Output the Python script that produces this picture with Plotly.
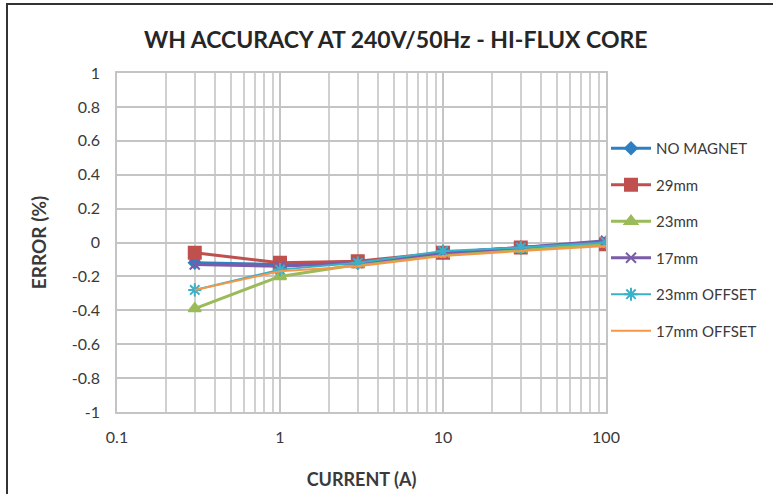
import plotly.graph_objects as go

current = [0.3, 1, 3, 10, 30, 100]
no_magnet = [-0.12, -0.13, -0.12, -0.06, -0.03, 0.00]
mm29 = [-0.06, -0.12, -0.11, -0.06, -0.03, -0.01]
mm23 = [-0.39, -0.20, -0.13, -0.07, -0.04, -0.01]
mm17 = [-0.13, -0.14, -0.12, -0.06, -0.03, 0.01]
mm23_offset = [-0.28, -0.16, -0.12, -0.05, -0.03, 0.00]
mm17_offset = [-0.28, -0.17, -0.14, -0.08, -0.05, -0.02]

series_names = ["NO MAGNET", "29mm", "23mm", "17mm", "23mm OFFSET", "17mm OFFSET"]
series_values = [no_magnet, mm29, mm23, mm17, mm23_offset, mm17_offset]
colors = ["#2F7FC1", "#C0504D", "#9BBB59", "#7A5CA8", "#3BB0C9", "#F79646"]
symbols = ["diamond", "square", "triangle-up", "x-thin-open", "asterisk-open", None]
sizes = [9, 12, 11, 10, 11, 0]
widths = [3, 3, 3, 3, 2, 2]

x_ticks = [0.1, 1, 10, 100]
x_tick_labels = ["0.1", "1", "10", "100"]
y_ticks = [1, 0.8, 0.6, 0.4, 0.2, 0, -0.2, -0.4, -0.6, -0.8, -1]
y_tick_labels = ["1", "0.8", "0.6", "0.4", "0.2", "0", "-0.2", "-0.4", "-0.6", "-0.8", "-1"]

FONT = "Lato"
TXT = "#3A3A3A"
fig = go.Figure()
for i, (name, vals) in enumerate(zip(series_names, series_values)):
    if symbols[i] is None:
        mode = "lines"
        marker = None
    else:
        mode = "lines+markers"
        marker = dict(symbol=symbols[i], size=sizes[i], color=colors[i],
                      line=dict(color=colors[i], width=2))
    fig.add_trace(go.Scatter(
        x=current, y=vals, name=name, mode=mode,
        line=dict(color=colors[i], width=widths[i]),
        marker=marker, legendgroup=name,
    ))

fig.update_layout(
    width=773, height=494,
    paper_bgcolor="white", plot_bgcolor="white",
    margin=dict(l=117, r=167, t=73, b=82, autoexpand=False),
    title=dict(text="<b>WH ACCURACY AT 240V/50Hz - HI-FLUX CORE</b>",
               x=0.512, xref="container", xanchor="center",
               y=1 - 40 / 494, yref="container", yanchor="middle",
               font=dict(family=FONT, size=23, color="#262626")),
    font=dict(family=FONT, color=TXT),
    legend=dict(x=1.0, xanchor="left", y=0.826, yanchor="top",
                font=dict(family=FONT, size=15, color=TXT),
                tracegroupgap=14, traceorder="grouped",
                bgcolor="rgba(0,0,0,0)", itemwidth=40),
    showlegend=True,
)
fig.update_xaxes(
    type="log", range=[-1, 2], automargin=False,
    tickvals=x_ticks, ticktext=x_tick_labels,
    tickfont=dict(size=16, color=TXT),
    ticklabelstandoff=10,
    showgrid=True, gridcolor="#C4C4C4", gridwidth=1.5,
    minor=dict(dtick="D1", showgrid=True, gridcolor="#D0D0D0", gridwidth=1.5, ticks=""),
    showline=True, linecolor="#C4C4C4", linewidth=1.5, mirror=True,
    ticks="", ticklen=0,
    zeroline=False,
    title=dict(text="<b>CURRENT (A)</b>", font=dict(family=FONT, size=18, color=TXT), standoff=28),
)
fig.update_yaxes(
    range=[-1, 1], automargin=False,
    tickvals=y_ticks, ticktext=y_tick_labels,
    tickfont=dict(size=16, color=TXT),
    ticklabelstandoff=12,
    showgrid=True, gridcolor="#C4C4C4", gridwidth=1.5,
    showline=True, linecolor="#C4C4C4", linewidth=1.5, mirror=True,
    zeroline=False, ticks="",
    title=dict(text="<b>ERROR (%)</b>", font=dict(family=FONT, size=19, color=TXT), standoff=20),
)
# outer chart border (left and top edges visible in the cropped picture)
fig.add_shape(type="rect", xref="paper", yref="paper",
              x0=(7 - 117) / 489, y0=-3, x1=5, y1=1 + (73 - 4) / 339,
              line=dict(color="#333333", width=2), fillcolor="rgba(0,0,0,0)", layer="above")

fig.write_html("out.html", config={"displayModeBar": False},
               post_script="document.body.style.margin='0';document.body.style.overflow='hidden';")
